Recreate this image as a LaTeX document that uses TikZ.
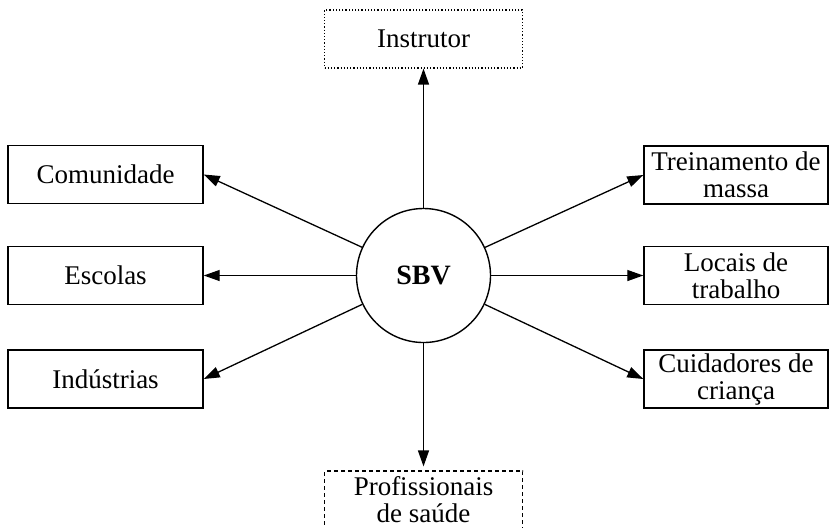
\documentclass[tikz,border=0pt]{standalone}
\usepackage{fontspec}
\setmainfont{Liberation Serif}
\usetikzlibrary{arrows.meta}
\begin{document}
\begin{tikzpicture}[x=0.5pt,y=-0.5pt,
  txt/.style={font=\fontsize{13.5}{13.5}\selectfont, align=center, inner sep=0pt},
  box/.style={txt, draw, line width=0.7pt, minimum height=29pt},
  lbox/.style={box, minimum width=97.5pt},
  rbox/.style={box, minimum width=92pt},
  dotbox/.style={txt, draw, line width=0.6pt, dash pattern=on 0.6pt off 1pt, minimum width=99pt, minimum height=29pt},
  dashbox/.style={txt, draw, line width=0.6pt, dash pattern=on 2pt off 1.5pt, minimum width=99pt, minimum height=29pt},
  hub/.style={circle, draw, line width=0.7pt, minimum size=67pt, inner sep=0pt, font=\fontsize{14}{13.5}\selectfont\bfseries},
  arr/.style={-{Triangle[length=8pt,width=5.5pt]}, line width=0.65pt}]
\useasboundingbox (0,0) rectangle (829,527);
\clip (0,0) rectangle (829,527);

\node[hub] (sbv) at (423.5,275.5) {SBV};

\node[lbox] (com) at (105.5,174.5) {Comunidade};
\node[lbox] (esc) at (105.5,275.5) {Escolas};
\node[lbox] (ind) at (105.5,379) {Indústrias};

\node[rbox] (tre) at (736,175) {Treinamento de\\massa};
\node[rbox] (loc) at (736,275.5) {Locais de\\trabalho};
\node[rbox] (cui) at (736,379) {Cuidadores de\\criança};

\node[dotbox] (ins) at (423.5,39) {\raisebox{-1.5pt}{Instrutor}};
\node[dashbox] (pro) at (423.5,500) {Profissionais\\de saúde};

\draw[arr] (sbv) -- (com.east);
\draw[arr] (sbv) -- (esc.east);
\draw[arr] (sbv) -- (ind.east);
\draw[arr] (sbv) -- (tre.west);
\draw[arr] (sbv) -- (loc.west);
\draw[arr] (sbv) -- (cui.west);
\draw[arr] (sbv) -- (ins);
\draw[arr, shorten >=2pt] (sbv) -- (pro);
\end{tikzpicture}
\end{document}
